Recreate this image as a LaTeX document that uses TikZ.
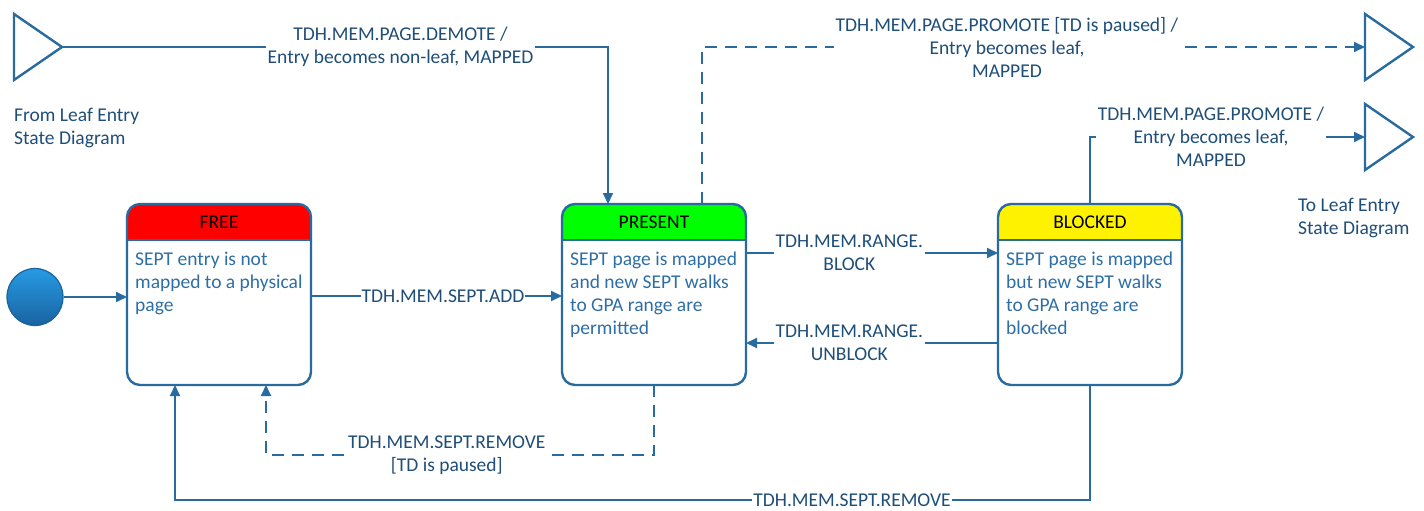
\documentclass[tikz,border=0pt]{standalone}
\usepackage{fontspec}
\setmainfont{Carlito}
\usetikzlibrary{arrows.meta,calc,shapes.geometric}

\definecolor{edgeblue}{RGB}{41,107,158}
\definecolor{labelblue}{RGB}{31,78,121}
\definecolor{bodyblue}{RGB}{46,110,166}
\definecolor{dotlight}{RGB}{40,155,228}
\definecolor{dotdark}{RGB}{24,98,160}

\tikzset{
  statebox/.style={minimum width=184pt, minimum height=181pt, inner sep=0pt, outer sep=0pt},
  headtext/.style={font=\fontsize{19.5}{23}\selectfont, text=black, inner sep=0pt},
  bodytext/.style={font=\fontsize{19.5}{23}\selectfont, text=bodyblue, align=left,
    anchor=north west, inner sep=0pt},
  edgelabel/.style={font=\fontsize{19.5}{23}\selectfont, text=labelblue, fill=white,
    align=center, inner sep=2pt},
  notetext/.style={font=\fontsize{19.5}{23}\selectfont, text=labelblue, align=left,
    anchor=north west, inner sep=0pt},
  trans/.style={draw=edgeblue, line width=1.8pt, -{Triangle[length=11pt,width=10pt]}},
  pausedtrans/.style={trans, dash pattern=on 12pt off 8pt},
  port/.style={draw=edgeblue, line width=2.4pt, line join=miter},
  startdot/.style={ellipse, minimum width=56pt, minimum height=57pt, draw=dotdark,
    line width=1.2pt, top color=dotlight, bottom color=dotdark}
}

% header band, outline and title of one state box
\newcommand{\drawstate}[3]{%
  \begin{scope}
    \clip (#1.north west) rectangle ($(#1.north east)+(0,36)$);
    \fill[#2, rounded corners=13pt] (#1.north west) rectangle (#1.south east);
  \end{scope}
  \draw[edgeblue, line width=2.4pt] ($(#1.north west)+(0,36)$) -- ($(#1.north east)+(0,36)$);
  \draw[edgeblue, line width=2.4pt, rounded corners=13pt] (#1.north west) rectangle (#1.south east);
  \node[headtext] (#1head) at ($(#1.north)+(0,18)$) {#3};
}

\begin{document}
\begin{tikzpicture}[x=1pt, y=-1pt]
  \useasboundingbox (0,0) rectangle (1424,511);

  % states
  \node[statebox] (free) at (219,294.5) {};
  \node[statebox] (present) at (654,294.5) {};
  \node[statebox] (blocked) at (1090,294.5) {};
  \drawstate{free}{red}{FREE}
  \drawstate{present}{green}{PRESENT}
  \drawstate{blocked}{yellow}{BLOCKED}
  \node[bodytext] (freetext) at ($(free.north west)+(8,48)$)
    {SEPT entry is not\\mapped to a physical\\page};
  \node[bodytext] (presenttext) at ($(present.north west)+(8,48)$)
    {SEPT page is mapped\\and new SEPT walks\\to GPA range are\\permitted};
  \node[bodytext] (blockedtext) at ($(blocked.north west)+(8,48)$)
    {SEPT page is mapped\\but new SEPT walks\\to GPA range are\\blocked};

  % initial state
  \node[startdot] (init) at (35,297) {};

  % leaf entry connectors
  \draw[port] (14,14) -- (62,47) -- (14,80) -- cycle;
  \draw[port] (1365,14) -- (1413,47) -- (1365,80) -- cycle;
  \draw[port] (1365,104) -- (1413,137) -- (1365,170) -- cycle;
  \coordinate (fromleaf) at (62,47);
  \coordinate (toleafpaused) at (1365,47);
  \coordinate (toleaf) at (1365,137);
  \coordinate (pausedcorner) at (266,455);
  \coordinate (removecorner) at (175,500);
  \node[notetext] (fromnote) at (14,108) {From Leaf Entry\\State Diagram};
  \node[notetext] (tonote) at (1298,198) {To Leaf Entry\\State Diagram};

  % transitions
  \draw[trans] (init) -- (free.west |- init);
  \draw[trans] ([yshift=-1.5pt]free.east) -- ([yshift=-1.5pt]present.west)
    node[edgelabel, inner sep=1pt, pos=0.526] (lbadd) {TDH.MEM.SEPT.ADD};
  \draw[trans] ([yshift=41.5pt]present.east) -- ([yshift=41.5pt]blocked.west)
    node[edgelabel, pos=0.41] (lbblock) {TDH.MEM.RANGE.\\BLOCK};
  \draw[trans] ([yshift=-48.5pt]blocked.west) -- ([yshift=-48.5pt]present.east)
    node[edgelabel, pos=0.59] (lbunblock) {TDH.MEM.RANGE.\\UNBLOCK};
  \draw[trans] (fromleaf) -| ([xshift=-46pt]present.north)
    node[edgelabel, pos=0.31] (lbdemote) {TDH.MEM.PAGE.DEMOTE /\\Entry becomes non-leaf, MAPPED};
  \draw[pausedtrans] ([xshift=48pt]present.north) |- (toleafpaused)
    node[edgelabel, pos=0.73] (lbpromotepaused)
    {TDH.MEM.PAGE.PROMOTE [TD is paused] /\\Entry becomes leaf,\\MAPPED};
  \draw[trans] (blocked.north) |- (toleaf)
    node[edgelabel, pos=0.72] (lbpromote)
    {TDH.MEM.PAGE.PROMOTE /\\Entry becomes leaf,\\MAPPED};
  \draw[pausedtrans] (present.south) |- (pausedcorner)
    node[edgelabel, pos=0.767] (lbremovepaused) {TDH.MEM.SEPT.REMOVE\\{}[TD is paused]}
    -- (free.south -| pausedcorner);
  \draw[trans] (blocked.south) |- (removecorner)
    node[edgelabel, inner sep=1pt, pos=0.63] (lbremove) {TDH.MEM.SEPT.REMOVE}
    -- (free.south -| removecorner);
\end{tikzpicture}
\end{document}
